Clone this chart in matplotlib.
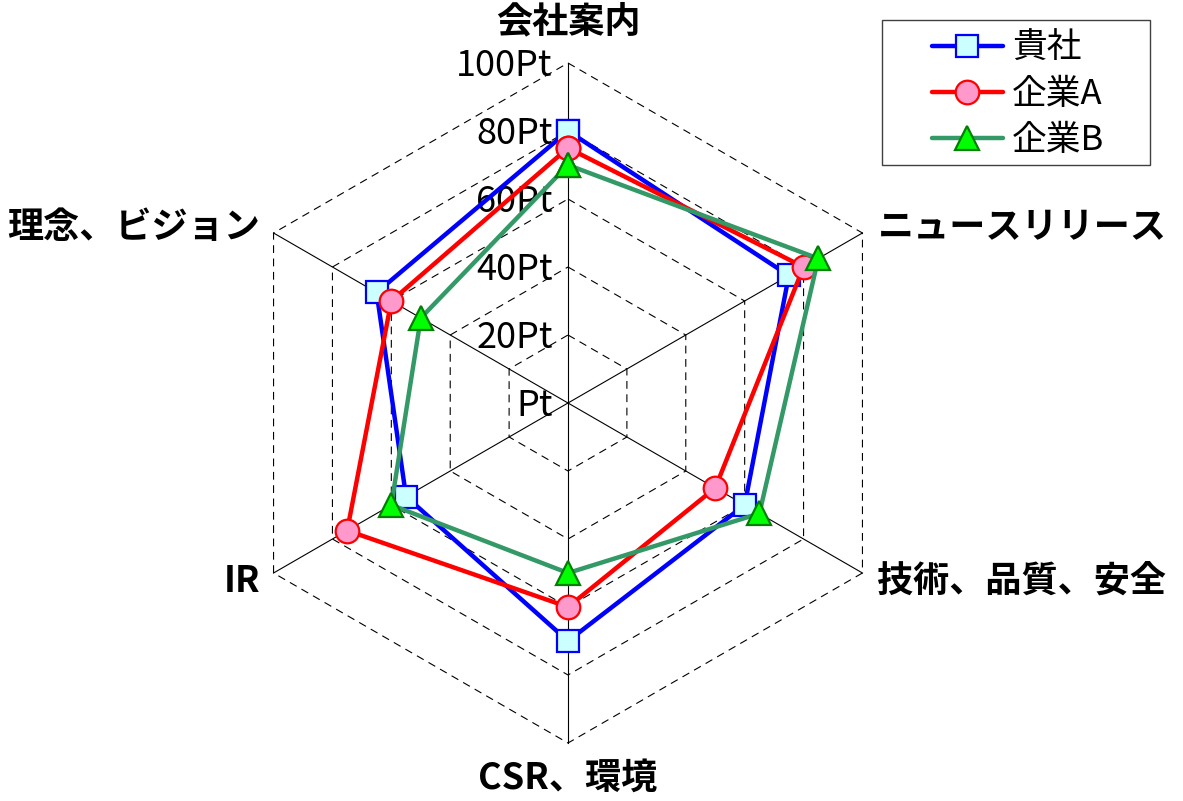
"""Radar chart comparing website content scores across companies."""

import matplotlib.pyplot as plt
import numpy as np
from matplotlib.lines import Line2D
from matplotlib.patches import Rectangle

plt.rcParams["font.family"] = ["Noto Sans CJK JP", "DejaVu Sans"]

# Categories, clockwise from the top
categories = ["会社案内", "ニュースリリース", "技術、品質、安全", "CSR、環境", "IR", "理念、ビジョン"]

# Series values (Pt)
kisha = [80, 75, 60, 70, 55, 65]
kigyo_a = [75, 80, 50, 60, 75, 60]
kigyo_b = [70, 85, 65, 50, 60, 50]

series_names = ["貴社", "企業A", "企業B"]
ring_levels = [20, 40, 60, 80, 100]
ring_labels = ["20Pt", "40Pt", "60Pt", "80Pt", "100Pt"]

# Figure: 1 data unit = 3.4 px, centre of the radar at (568, 403) px
W, H, DPI = 1183, 801, 100
SCALE = 3.4
CX, CY = 568, 403
fig = plt.figure(figsize=(W / DPI, H / DPI), dpi=DPI)
ax = fig.add_axes([0, 0, 1, 1])
ax.set_xlim(-CX / SCALE, (W - CX) / SCALE)
ax.set_ylim(-(H - CY) / SCALE, CY / SCALE)
ax.axis("off")

n = len(categories)
angles = np.pi / 2 - np.arange(n) * 2 * np.pi / n


def to_xy(values):
    v = np.asarray(values, dtype=float)
    x = v * np.cos(angles)
    y = v * np.sin(angles)
    return np.append(x, x[0]), np.append(y, y[0])


# Grid rings (dashed) and spokes (solid)
for lvl in ring_levels:
    gx, gy = to_xy([lvl] * n)
    ax.plot(gx, gy, color="black", lw=0.8, ls=(0, (7, 5)), zorder=1)
for a in angles:
    ax.plot([0, 100 * np.cos(a)], [0, 100 * np.sin(a)], color="black", lw=0.8, zorder=1)

# Radial tick labels
ax.text(-4.5, -0.8, "Pt", ha="right", va="center", fontsize=26)
for lvl, lab in zip(ring_levels, ring_labels):
    ax.text(-4.5, lvl - 0.8, lab, ha="right", va="center", fontsize=26)

# Series
styles = [
    dict(color="#0000FF", marker="s", mfc="#CCFFFF", mec="#0000FF", ms=16),
    dict(color="#FF0000", marker="o", mfc="#FF99CC", mec="#FF0000", ms=17),
    dict(color="#339966", marker="^", mfc="#00FF00", mec="#008000", ms=17),
]
for name, vals, st in zip(series_names, [kisha, kigyo_a, kigyo_b], styles):
    sx, sy = to_xy(vals)
    ax.plot(sx, sy, lw=3.2, mew=1.6, label=name, zorder=3, **st)

# Category labels
label_pos = [
    (0, 112.0, "center", "center"),
    (91.0, 51.5, "left", "center"),
    (91.0, -52.5, "left", "center"),
    (0, -110.5, "center", "center"),
    (-90.5, -52.5, "right", "center"),
    (-90.5, 51.5, "right", "center"),
]
for cat, (lx, ly, ha, va) in zip(categories, label_pos):
    ax.text(lx, ly, cat, ha=ha, va=va, fontsize=26, fontweight="bold")

# Legend, drawn by hand to match the boxed layout
fx = lambda px: px / W
fy = lambda py: 1 - py / H
fig.patches.append(Rectangle((fx(882), fy(165)), fx(1150) - fx(882), fy(20) - fy(165),
                             transform=fig.transFigure, fill=False,
                             edgecolor="#404040", lw=1.0))
for i, (name, st) in enumerate(zip(series_names, styles)):
    yy = fy(46 + 46 * i)
    fig.lines.append(Line2D([fx(932), fx(1003)], [yy, yy], transform=fig.transFigure,
                            color=st["color"], lw=3.2, solid_capstyle="round"))
    fig.lines.append(Line2D([fx(967)], [yy], transform=fig.transFigure, ls="none",
                            marker=st["marker"], mfc=st["mfc"], mec=st["mec"],
                            ms=st["ms"], mew=1.6))
    fig.text(fx(1012), yy - 0.003, name, ha="left", va="center", fontsize=25)

fig.savefig("out.png", dpi=DPI)
